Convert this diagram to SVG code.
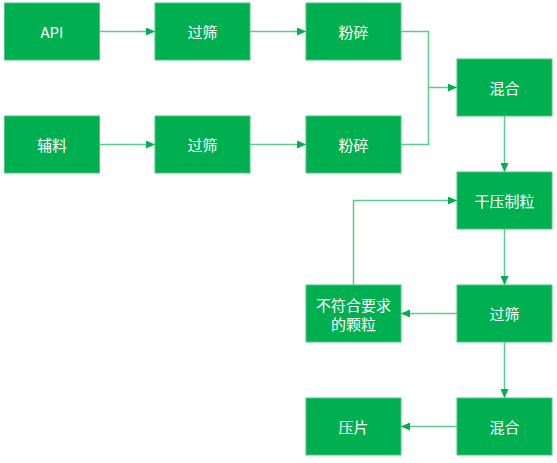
<svg xmlns="http://www.w3.org/2000/svg" width="557" height="463" viewBox="0 0 557 463">
<style>
.box{fill:#00B050;stroke:#4CC583;stroke-width:1}
.lbl{fill:#FFFFFF;font-family:"Microsoft YaHei","Noto Sans CJK SC","Noto Sans",sans-serif;font-size:15px;text-anchor:middle;dominant-baseline:central}
.edge{fill:none;stroke:#5CCB8C;stroke-width:1.5}
</style>
<defs>
<marker id="ah" markerWidth="9" markerHeight="8" refX="9" refY="4" orient="auto" markerUnits="userSpaceOnUse">
<path d="M0,0 L9,4 L0,8 Z" fill="#00B050"/>
</marker>
</defs>
<rect width="557" height="463" fill="#FFFFFF"/>
<g id="connectors">
<path class="edge" d="M99.5,31.5 H155" marker-end="url(#ah)"/>
<path class="edge" d="M250,31.5 H306" marker-end="url(#ah)"/>
<path class="edge" d="M99.5,144.5 H155" marker-end="url(#ah)"/>
<path class="edge" d="M250,144.5 H306" marker-end="url(#ah)"/>
<path class="edge" d="M401,31.5 H428.5 V87.5 H457" marker-end="url(#ah)"/>
<path class="edge" d="M401,144.5 H428.5 V87.5"/>
<path class="edge" d="M504.5,116 V172" marker-end="url(#ah)"/>
<path class="edge" d="M504.5,229 V285" marker-end="url(#ah)"/>
<path class="edge" d="M504.5,342 V398" marker-end="url(#ah)"/>
<path class="edge" d="M457,313.5 H401" marker-end="url(#ah)"/>
<path class="edge" d="M457,426.5 H401" marker-end="url(#ah)"/>
<path class="edge" d="M353.5,285 V200.5 H457" marker-end="url(#ah)"/>
</g>
<g id="api"><rect class="box" x="4.5" y="3" width="95" height="57"/><text class="lbl" x="52" y="31.5">API</text></g>
<g id="sieve1"><rect class="box" x="155" y="3" width="95" height="57"/><text class="lbl" x="202.5" y="31.5">过筛</text></g>
<g id="mill1"><rect class="box" x="306" y="3" width="95" height="57"/><text class="lbl" x="353.5" y="31.5">粉碎</text></g>
<g id="excipient"><rect class="box" x="4.5" y="116" width="95" height="57"/><text class="lbl" x="52" y="144.5">辅料</text></g>
<g id="sieve2"><rect class="box" x="155" y="116" width="95" height="57"/><text class="lbl" x="202.5" y="144.5">过筛</text></g>
<g id="mill2"><rect class="box" x="306" y="116" width="95" height="57"/><text class="lbl" x="353.5" y="144.5">粉碎</text></g>
<g id="mix1"><rect class="box" x="457" y="59" width="95" height="57"/><text class="lbl" x="504.5" y="87.5">混合</text></g>
<g id="granulate"><rect class="box" x="457" y="172" width="95" height="57"/><text class="lbl" x="504.5" y="200.5">干压制粒</text></g>
<g id="sieve3"><rect class="box" x="457" y="285" width="95" height="57"/><text class="lbl" x="504.5" y="313.5">过筛</text></g>
<g id="reject"><rect class="box" x="306" y="285" width="95" height="57"/><text class="lbl" x="353.5" y="304">不符合要求</text><text class="lbl" x="353.5" y="323">的颗粒</text></g>
<g id="mix2"><rect class="box" x="457" y="398" width="95" height="57"/><text class="lbl" x="504.5" y="426.5">混合</text></g>
<g id="press"><rect class="box" x="306" y="398" width="95" height="57"/><text class="lbl" x="353.5" y="426.5">压片</text></g>
</svg>
